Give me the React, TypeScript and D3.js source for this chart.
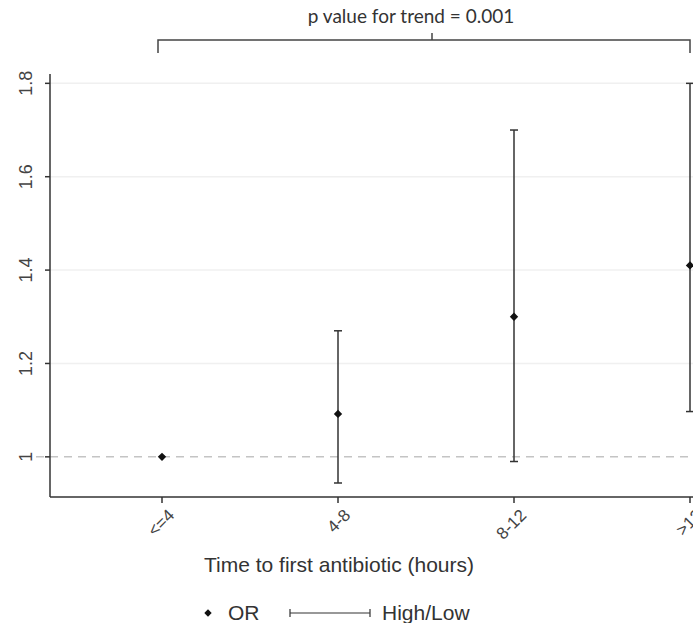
import * as d3 from "d3"
import { useRef, useEffect } from "react"

const categories = ["<=4", "4-8", "8-12", ">12"]
const orValues = [1.0, 1.092, 1.3, 1.41]
const highValues = [1.0, 1.27, 1.7, 1.8]
const lowValues = [1.0, 0.944, 0.99, 1.097]
const yTicks = [1, 1.2, 1.4, 1.6, 1.8]
const yTickLabels = ["1", "1.2", "1.4", "1.6", "1.8"]
const pValueText = "p value for trend = 0.001"
const xTitle = "Time to first antibiotic (hours)"

const App = () => {
  const svgRef = useRef<SVGSVGElement | null>(null)
  const width = 693
  const height = 623
  const axisLeft = 50
  const axisBottom = 497
  const axisTop = 74
  const font = "Liberation Sans, Arial, sans-serif"

  useEffect(() => {
    const svg = d3.select(svgRef.current)
    svg.selectAll("*").remove()

    const x = d3.scalePoint<string>().domain(categories).range([162, 690])
    const y = d3.scaleLinear().domain([0.914, 1.82]).range([axisBottom, axisTop])

    // faint grid
    svg
      .append("g")
      .selectAll("line")
      .data(yTicks.filter((d) => d !== 1))
      .join("line")
      .attr("x1", axisLeft)
      .attr("x2", width)
      .attr("y1", (d) => y(d))
      .attr("y2", (d) => y(d))
      .attr("stroke", "#f0f0f0")
      .attr("stroke-width", 1.5)

    // reference line at OR = 1
    svg
      .append("line")
      .attr("x1", axisLeft - 14)
      .attr("x2", width)
      .attr("y1", y(1))
      .attr("y2", y(1))
      .attr("stroke", "#c4c4c4")
      .attr("stroke-width", 1.5)
      .attr("stroke-dasharray", "8,6")

    // y axis
    const yAxis = svg.append("g").attr("transform", `translate(${axisLeft},0)`)
    yAxis
      .append("line")
      .attr("y1", axisTop)
      .attr("y2", axisBottom)
      .attr("stroke", "#333")
      .attr("stroke-width", 1.5)
    yAxis
      .selectAll(".tick")
      .data(yTicks)
      .join("line")
      .attr("x1", -5)
      .attr("x2", 0)
      .attr("y1", (d) => y(d))
      .attr("y2", (d) => y(d))
      .attr("stroke", "#333")
      .attr("stroke-width", 1.5)
    yAxis
      .selectAll("text")
      .data(yTicks)
      .join("text")
      .attr("transform", (d) => `translate(-18, ${y(d)}) rotate(-90)`)
      .attr("text-anchor", "middle")
      .attr("font-family", font)
      .attr("font-size", 18)
      .attr("fill", "#444")
      .text((d, i) => yTickLabels[i])

    // x axis
    const xAxis = svg.append("g").attr("transform", `translate(0,${axisBottom})`)
    xAxis
      .append("line")
      .attr("x1", axisLeft)
      .attr("x2", width)
      .attr("stroke", "#333")
      .attr("stroke-width", 1.5)
    xAxis
      .selectAll(".tick")
      .data(categories)
      .join("line")
      .attr("x1", (d) => x(d))
      .attr("x2", (d) => x(d))
      .attr("y1", 0)
      .attr("y2", 6)
      .attr("stroke", "#333")
      .attr("stroke-width", 1.5)
    xAxis
      .selectAll("text")
      .data(categories)
      .join("text")
      .attr("transform", (d) => `translate(${x(d) + 5}, 11) rotate(-45)`)
      .attr("text-anchor", "end")
      .attr("dy", "0.7em")
      .attr("font-family", font)
      .attr("font-size", 17)
      .attr("fill", "#444")
      .text((d) => d)

    svg
      .append("text")
      .attr("x", 339)
      .attr("y", 572)
      .attr("text-anchor", "middle")
      .attr("font-family", font)
      .attr("font-size", 21)
      .attr("fill", "#333")
      .text(xTitle)

    // error bars
    const bars = svg.append("g")
    categories.forEach((c, i) => {
      if (highValues[i] === lowValues[i]) return
      const cx = x(c)
      bars
        .append("line")
        .attr("x1", cx)
        .attr("x2", cx)
        .attr("y1", y(highValues[i]))
        .attr("y2", y(lowValues[i]))
        .attr("stroke", "#333")
        .attr("stroke-width", 1.5)
      ;[highValues[i], lowValues[i]].forEach((v) => {
        bars
          .append("line")
          .attr("x1", cx - 4)
          .attr("x2", cx + 4)
          .attr("y1", y(v))
          .attr("y2", y(v))
          .attr("stroke", "#333")
          .attr("stroke-width", 1.5)
      })
    })

    // OR points
    svg
      .append("g")
      .selectAll("path")
      .data(orValues)
      .join("path")
      .attr("transform", (d, i) => `translate(${x(categories[i])},${y(d)})`)
      .attr("d", d3.symbol(d3.symbolDiamond2, 45)())
      .attr("fill", "#111")

    // trend bracket
    const bracketY = 40
    const bx0 = x(categories[0]) - 4
    const bx1 = x(categories[categories.length - 1])
    svg
      .append("path")
      .attr("d", `M${bx0},${bracketY + 13}V${bracketY}H${bx1}V${bracketY + 13}`)
      .attr("fill", "none")
      .attr("stroke", "#444")
      .attr("stroke-width", 1.5)
    svg
      .append("line")
      .attr("x1", 432)
      .attr("x2", 432)
      .attr("y1", bracketY)
      .attr("y2", bracketY - 7)
      .attr("stroke", "#444")
      .attr("stroke-width", 1.5)
    svg
      .append("text")
      .attr("x", 411)
      .attr("y", 23)
      .attr("text-anchor", "middle")
      .attr("font-family", "Lato, sans-serif")
      .attr("font-size", 19)
      .attr("fill", "#333")
      .text(pValueText)

    // legend
    const legend = svg.append("g").attr("transform", "translate(208,613)")
    legend
      .append("path")
      .attr("d", d3.symbol(d3.symbolDiamond2, 35)())
      .attr("fill", "#111")
    legend
      .append("text")
      .attr("x", 20)
      .attr("y", 7)
      .attr("font-family", font)
      .attr("font-size", 21)
      .attr("fill", "#333")
      .text("OR")
    legend
      .append("path")
      .attr("d", "M82,-4V4M82,0H162M162,-4V4")
      .attr("fill", "none")
      .attr("stroke", "#333")
      .attr("stroke-width", 1.2)
    legend
      .append("text")
      .attr("x", 174)
      .attr("y", 7)
      .attr("font-family", font)
      .attr("font-size", 21)
      .attr("fill", "#333")
      .text("High/Low")
  }, [])

  return (
    <svg
      ref={svgRef}
      width={width}
      height={height}
      style={{ position: "absolute", left: 0, top: 0, background: "#fff" }}
    ></svg>
  )
}

export default App
